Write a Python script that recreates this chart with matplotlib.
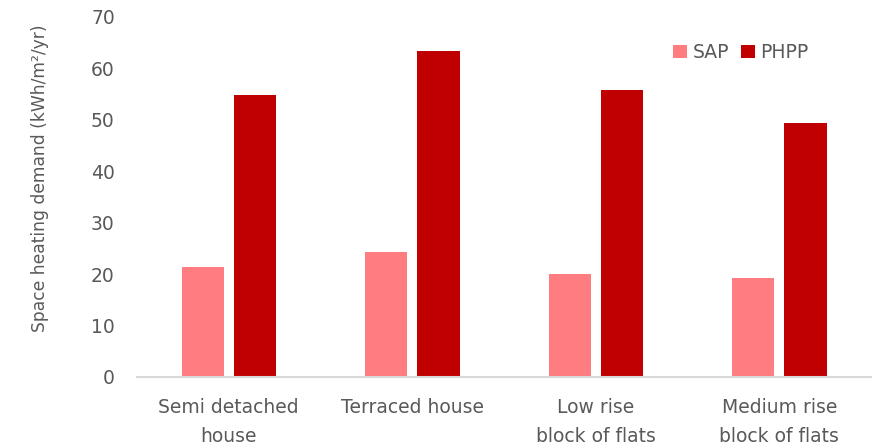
import matplotlib.pyplot as plt
import numpy as np

plt.rcParams['font.family'] = ['DejaVu Sans']

categories = ['Semi detached\nhouse', 'Terraced house', 'Low rise\nblock of flats', 'Medium rise\nblock of flats']
sap = [21.3, 24.3, 20.0, 19.2]
phpp = [54.8, 63.3, 55.7, 49.3]

grey = '#595959'

fig = plt.figure(figsize=(8.76, 4.48), dpi=100)
ax = fig.add_axes([0.1564, 0.1585, 0.8379, 0.8043])

x = np.arange(len(categories))
w = 0.229
ax.bar(x - 0.143, sap, w, color='#FF7C80', label='SAP')
ax.bar(x + 0.143, phpp, w, color='#C00000', label='PHPP')

ax.set_xlim(-0.5, 3.5)
ax.set_ylim(0, 70)
ax.set_yticks(range(0, 71, 10))
ax.set_xticks(x)
ax.set_xticklabels(categories, fontsize=13.5, color=grey, linespacing=1.65)
ax.tick_params(axis='y', length=0, pad=16, labelsize=13.5, labelcolor=grey)
ax.tick_params(axis='x', length=0, pad=15)

for s in ['top', 'right', 'left']:
    ax.spines[s].set_visible(False)
ax.spines['bottom'].set_color('#D9D9D9')
ax.spines['bottom'].set_linewidth(1.5)

fig.text(0.046, 0.603, 'Space heating demand (kWh/m²/yr)', rotation=90,
         ha='center', va='center', fontsize=12.3, color=grey)

ax.legend(loc='upper right', bbox_to_anchor=(0.938, 0.974), ncol=2, frameon=False,
          fontsize=13.5, labelcolor=grey, handlelength=0.75, handleheight=0.75,
          handletextpad=0.3, columnspacing=0.6)

fig.savefig('out.png', dpi=100)
